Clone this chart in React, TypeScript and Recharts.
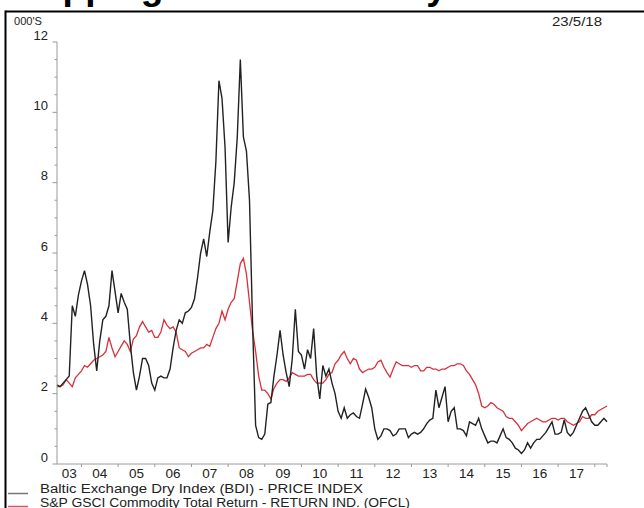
import { LineChart, Line, XAxis, YAxis } from "recharts";

// monthly values in thousands, May 2003 .. May 2018
const bdi = [
  2.25, 2.2, 2.3, 2.4, 2.5, 4.5, 4.2, 4.8,
  5.2, 5.5, 5.1, 4.5, 3.4, 2.65, 3.5, 4.1, 4.2, 4.5, 5.5, 4.9,
  4.3, 4.85, 4.6, 4.4, 3.4, 2.6, 2.1, 2.5, 3.0, 3.0, 2.8, 2.3,
  2.1, 2.45, 2.5, 2.45, 2.45, 2.7, 3.3, 3.8, 4.1, 4.0, 4.3, 4.35,
  4.45, 4.7, 5.3, 6.0, 6.4, 5.9, 6.6, 7.2, 8.6, 10.9, 10.4, 9.0,
  6.3, 7.3, 8.0, 9.3, 11.5, 9.3, 8.9, 7.5, 4.0, 1.1, 0.75, 0.7,
  0.85, 1.7, 1.75, 2.5, 3.1, 3.8, 3.1, 2.6, 2.2, 3.0, 4.4, 3.2,
  3.1, 2.7, 3.25, 3.0, 3.85, 2.5, 1.85, 2.8, 2.5, 2.7, 2.3, 2.0,
  1.5, 1.3, 1.6, 1.3, 1.4, 1.45, 1.35, 1.3, 1.7, 2.13, 1.9, 1.6,
  1.0, 0.7, 0.8, 1.0, 1.0, 0.95, 0.8, 0.85, 1.0, 1.0, 1.0, 0.75,
  0.85, 0.9, 0.85, 0.9, 1.0, 1.15, 1.25, 1.3, 2.1, 1.6, 1.9, 2.2,
  1.2, 1.5, 1.6, 1.0, 1.0, 0.95, 0.8, 1.2, 1.15, 1.1, 1.3, 1.0,
  0.8, 0.6, 0.65, 0.65, 0.6, 0.8, 1.0, 0.75, 0.7, 0.6, 0.45, 0.4,
  0.3, 0.4, 0.6, 0.45, 0.6, 0.7, 0.7, 0.8, 0.9, 1.05, 1.2, 0.85,
  0.85, 0.9, 1.25, 0.9, 0.8, 0.9, 1.1, 1.3, 1.5, 1.6, 1.4, 1.2,
  1.1, 1.1, 1.2, 1.3, 1.2,
];

const gsci = [
  2.2, 2.2, 2.25, 2.4, 2.3, 2.2, 2.45, 2.55,
  2.65, 2.8, 2.75, 2.85, 2.95, 3.0, 3.05, 3.1, 3.2, 3.6, 3.3, 3.05,
  3.2, 3.35, 3.5, 3.4, 3.2, 3.55, 3.65, 3.9, 4.05, 3.9, 3.75, 3.8,
  3.6, 3.6, 3.75, 4.1, 3.95, 3.85, 3.9, 3.75, 3.3, 3.25, 3.2, 3.05,
  3.15, 3.2, 3.25, 3.3, 3.3, 3.4, 3.35, 3.6, 3.85, 4.0, 4.35, 4.1,
  4.4, 4.6, 4.7, 5.2, 5.7, 5.85, 5.4, 4.6, 3.8, 3.2, 2.5, 2.1,
  2.1, 2.0, 1.85, 2.15, 2.3, 2.4, 2.4, 2.35, 2.45, 2.6, 2.55, 2.5,
  2.5, 2.5, 2.55, 2.55, 2.4, 2.3, 2.3, 2.3, 2.4, 2.55, 2.6, 2.85,
  2.95, 3.1, 3.2, 3.0, 2.85, 3.0, 2.95, 2.7, 2.6, 2.65, 2.7, 2.7,
  2.75, 2.9, 2.95, 2.75, 2.6, 2.47, 2.7, 2.9, 2.85, 2.8, 2.8, 2.8,
  2.75, 2.8, 2.8, 2.65, 2.65, 2.75, 2.75, 2.7, 2.7, 2.65, 2.7, 2.7,
  2.75, 2.8, 2.8, 2.85, 2.85, 2.8, 2.65, 2.55, 2.4, 2.25, 2.0, 1.65,
  1.6, 1.65, 1.75, 1.7, 1.6, 1.55, 1.5, 1.35, 1.3, 1.3, 1.2, 1.1,
  0.95, 1.05, 1.15, 1.2, 1.25, 1.3, 1.25, 1.2, 1.2, 1.25, 1.3, 1.3,
  1.25, 1.3, 1.3, 1.2, 1.15, 1.1, 1.15, 1.2, 1.35, 1.3, 1.3, 1.4,
  1.4, 1.5, 1.55, 1.6, 1.65,
];

// x axis: month offset from May 2003
const yearLabels = ["03", "04", "05", "06", "07", "08", "09", "10", "11", "12", "13", "14", "15", "16", "17"];
const labelMonths = [4, 14, 26, 38, 50, 62, 74, 86, 98, 110, 122, 134, 146, 158, 170];
const yearStartMonths = [8, 20, 32, 44, 56, 68, 80, 92, 104, 116, 128, 140, 152, 164, 176, 180];

const yMajor = [0, 2, 4, 6, 8, 10, 12];
const yTicks = [0, 0.5, 1, 1.5, 2, 2.5, 3, 3.5, 4, 4.5, 5, 5.5, 6, 6.5, 7, 7.5, 8, 8.5, 9, 9.5, 10, 10.5, 11, 11.5, 12];

const data = bdi.map((v, i) => ({ m: i, bdi: v, gsci: gsci[i] }));
const xTicks = [...labelMonths, ...yearStartMonths].sort((a, b) => a - b);

const font = "'Liberation Sans', Arial, sans-serif";
const axisGrey = "#9a9a9a";

function YTick({ x, y, payload }: any) {
  const major = yMajor.includes(payload.value);
  return (
    <g>
      <line x1={x - (major ? 4.5 : 2.5)} x2={x} y1={y} y2={y} stroke={axisGrey} />
      {major && (
        <text x={x - 9} y={y - 2.5} textAnchor="end" fontSize={13} fill="#222" fontFamily={font}>
          {payload.value}
        </text>
      )}
    </g>
  );
}

function XTick({ x, y, payload }: any) {
  const idx = labelMonths.indexOf(payload.value);
  if (idx >= 0) {
    return (
      <text x={x} y={y + 14} textAnchor="middle" fontSize={13.5} fill="#222" fontFamily={font}>
        {yearLabels[idx]}
      </text>
    );
  }
  return <line x1={x} x2={x} y1={y} y2={y + 3} stroke={axisGrey} />;
}

export default function App() {
  return (
    <div style={{ position: "absolute", left: 0, top: 0, width: 644, height: 508, overflow: "hidden", background: "#fff" }}>
      <LineChart width={644} height={508} data={data} margin={{ top: 42, right: 37, bottom: 20, left: 0 }}>
        <XAxis
          dataKey="m"
          type="number"
          domain={[0, 180]}
          ticks={xTicks}
          interval={0}
          tickSize={0}
          tickMargin={0}
          tickLine={false}
          axisLine={{ stroke: axisGrey }}
          tick={<XTick />}
          height={24}
        />
        <YAxis
          type="number"
          domain={[0, 12]}
          ticks={yTicks}
          interval={0}
          tickSize={0}
          tickMargin={0}
          tickLine={false}
          axisLine={{ stroke: axisGrey }}
          tick={<YTick />}
          width={57}
        />
        <Line type="linear" dataKey="gsci" stroke="#d8303a" strokeWidth={1.3} dot={false} isAnimationActive={false} />
        <Line type="linear" dataKey="bdi" stroke="#222" strokeWidth={1.4} dot={false} isAnimationActive={false} />
      </LineChart>

      <svg width={644} height={508} style={{ position: "absolute", left: 0, top: 0, pointerEvents: "none" }}>
        <text x={5} y={-1} fontSize={37} fontWeight="bold" fill="#000" fontFamily={font}>
          Shipping and commodity
        </text>
        <line x1={5.5} x2={644} y1={11.5} y2={11.5} stroke="#000" strokeWidth={2} />
        <line x1={5.5} x2={5.5} y1={10.5} y2={508} stroke="#000" strokeWidth={2} />
        <text x={14} y={25} fontSize={11} fill="#222" fontFamily={font} textLength={28} lengthAdjust="spacingAndGlyphs">
          000'S
        </text>
        <text x={552} y={26} fontSize={12} fill="#222" fontFamily={font} textLength={50} lengthAdjust="spacingAndGlyphs">
          23/5/18
        </text>
        <line x1={8} x2={28} y1={493.5} y2={493.5} stroke="#777" strokeWidth={1.5} />
        <text x={40} y={493} fontSize={12.5} fill="#222" fontFamily={font} textLength={323} lengthAdjust="spacingAndGlyphs">
          Baltic Exchange Dry Index (BDI) - PRICE INDEX
        </text>
        <line x1={8} x2={28} y1={506.5} y2={506.5} stroke="#e0505a" strokeWidth={1.5} />
        <text x={40} y={506.5} fontSize={12.5} fill="#222" fontFamily={font} textLength={370} lengthAdjust="spacingAndGlyphs">
          S&amp;P GSCI Commodity Total Return - RETURN IND. (OFCL)
        </text>
      </svg>
    </div>
  );
}
